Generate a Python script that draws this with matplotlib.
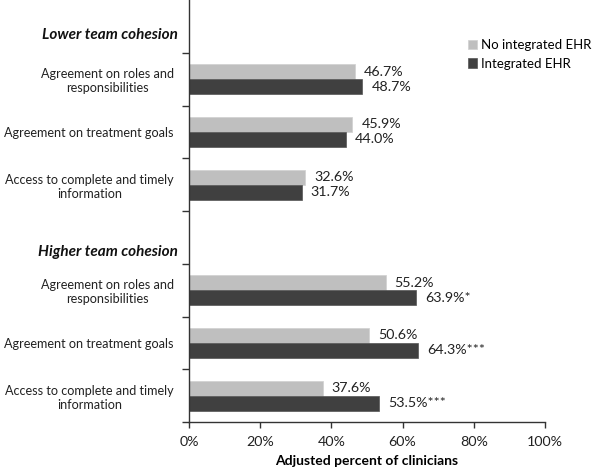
import matplotlib
matplotlib.use("Agg")
import matplotlib.pyplot as plt
from matplotlib.transforms import blended_transform_factory
import numpy as np

plt.rcParams['font.family'] = ['Lato', 'DejaVu Sans']

groups = ["Lower team cohesion", "Higher team cohesion"]
categories = ["Agreement on roles and\nresponsibilities",
              "Agreement on treatment goals",
              "Access to complete and timely\ninformation"]
series = ["No integrated EHR", "Integrated EHR"]
no_ehr_lower = [46.7, 45.9, 32.6]
ehr_lower = [48.7, 44.0, 31.7]
no_ehr_higher = [55.2, 50.6, 37.6]
ehr_higher = [63.9, 64.3, 53.5]
sig_lower = ["", "", ""]
sig_higher = ["*", "***", "***"]
xticks = [0, 20, 40, 60, 80, 100]

light = "#BFBFBF"
dark = "#404040"

fig = plt.figure(figsize=(5.94, 4.68), dpi=100)
ax = fig.add_axes([189/594, 46/468, (545-189)/594, 1 - 46/468])

bh = 0.285
group_data = [(no_ehr_lower, ehr_lower, sig_lower), (no_ehr_higher, ehr_higher, sig_higher)]
header_y = [0.66, 4.78]
centers = []
labels = []
for g, (a, b, s) in enumerate(group_data):
    base = g * 4
    for i in range(3):
        yc = base + 1 + i + 0.5
        centers.append(yc)
        labels.append(categories[i])
        ax.barh(yc - bh/2, a[i], height=bh, color=light, edgecolor="#D0D0D0", linewidth=0.5,
                label=series[0] if (g == 0 and i == 0) else None)
        ax.barh(yc + bh/2, b[i], height=bh, color=dark, edgecolor="#555555", linewidth=0.5,
                label=series[1] if (g == 0 and i == 0) else None)
        ax.annotate(f"{a[i]:.1f}%", (a[i], yc - bh/2), xytext=(6.5, 0), textcoords="offset points",
                    va="center", ha="left", fontsize=10.3, color="#222222")
        ax.annotate(f"{b[i]:.1f}%{s[i]}", (b[i], yc + bh/2), xytext=(6.5, 0), textcoords="offset points",
                    va="center", ha="left", fontsize=10.3, color="#222222")

trans = blended_transform_factory(ax.transAxes, ax.transData)
for g, name in enumerate(groups):
    ax.text(-0.03, header_y[g], name, transform=trans, ha="right", va="center",
            fontsize=11, fontweight="bold", fontstyle="italic", color="#111111")

ax.set_xlim(0, 100)
ax.set_ylim(8, 0)
ax.set_xticks(xticks)
ax.set_xticklabels([f"{t}%" for t in xticks], fontsize=10.3, color="#222222")
ax.set_yticks(list(range(1, 9)))
ax.set_yticklabels([])
ax.set_yticks(centers, minor=True)
ax.set_yticklabels(labels, minor=True, fontsize=9.1, color="#222222", multialignment="center")
ax.tick_params(axis="y", which="minor", length=0, pad=11)
ax.tick_params(axis="y", which="major", length=5, width=1, direction="out", color="#333333")
ax.tick_params(axis="x", length=4, width=1, direction="out", color="#333333", pad=6)
for sp in ["top", "right"]:
    ax.spines[sp].set_visible(False)
for sp in ["left", "bottom"]:
    ax.spines[sp].set_color("#333333")
    ax.spines[sp].set_linewidth(1)
ax.set_xlabel("Adjusted percent of clinicians", fontsize=10, fontweight="bold", labelpad=5)

leg = ax.legend(loc="upper left", bbox_to_anchor=(468/594, 1 - 39/468), bbox_transform=fig.transFigure,
                frameon=False, fontsize=9.5, handlelength=0.7, handleheight=0.7,
                handletextpad=0.3, labelspacing=0.5, borderaxespad=0, borderpad=0)

fig.savefig("out.png", dpi=100)
